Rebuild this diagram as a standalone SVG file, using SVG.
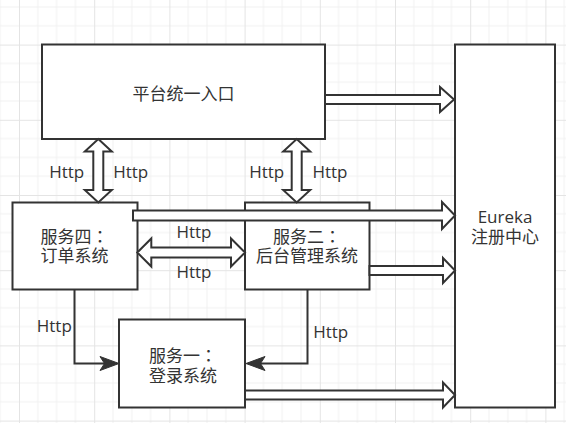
<svg xmlns="http://www.w3.org/2000/svg" width="566" height="423" viewBox="0 0 566 423">
<defs>
<pattern id="grid" patternUnits="userSpaceOnUse" x="19" y="44.6" width="75.2" height="75.2">
<path d="M18.8,0V75.2M37.6,0V75.2M56.4,0V75.2M0,18.8H75.2M0,37.6H75.2M0,56.4H75.2" stroke="#f1f1f1" stroke-width="1" fill="none"/>
<path d="M0.5,0V75.2M0,0.5H75.2" stroke="#e4e4e4" stroke-width="1" fill="none"/>
</pattern>
<style>
.box{fill:#fff;stroke:#333;stroke-width:2}
.blk{fill:#fff;stroke:#333;stroke-width:2;stroke-linejoin:miter}
.ln{fill:none;stroke:#333;stroke-width:2}
.hd{fill:#333;stroke:#333;stroke-width:1}
.t{font-family:"Open Sans","Noto Sans CJK SC",sans-serif;font-size:17px;fill:#333;text-anchor:middle}
.c{font-family:"Noto Sans CJK TC","Noto Sans CJK SC",sans-serif}
</style>
</defs>
<rect width="566" height="423" fill="#fff"/>
<rect width="566" height="423" fill="url(#grid)"/>

<g id="node-entry">
<rect class="box" x="42" y="44.5" width="283" height="94.5"/>
<text class="t" x="183.5" y="99.5">平台统一入口</text>
</g>
<g id="node-eureka">
<rect class="box" x="455" y="44.5" width="100" height="363"/>
<text class="t" x="505" y="222.7">Eureka</text>
<text class="t" x="505" y="242.7">注册中心</text>
</g>
<g id="node-service4">
<rect class="box" x="12.5" y="202.5" width="125" height="87"/>
<text class="t" x="74.5" y="242.7">服务四<tspan class="c">：</tspan></text>
<text class="t" x="74.5" y="262">订单系统</text>
</g>
<g id="node-service2">
<rect class="box" x="245" y="202.5" width="124.5" height="87"/>
<text class="t" x="307" y="243.3">服务二<tspan class="c">：</tspan></text>
<text class="t" x="307" y="262">后台管理系统</text>
</g>
<g id="node-service1">
<rect class="box" x="119" y="319.5" width="126" height="88"/>
<text class="t" x="183" y="362">服务一<tspan class="c">：</tspan></text>
<text class="t" x="183" y="382">登录系统</text>
</g>

<g id="connectors">
<path class="blk" d="M325,95H440V87L454,99.5L440,112V104H325Z"/>
<path class="blk" d="M98.3,139L111.8,151.5H103.3V190H111.8L98.3,202.5L84.8,190H93.3V151.5H84.8Z"/>
<path class="blk" d="M296.7,139L310.2,151.5H301.7V190H310.2L296.7,202.5L283.2,190H291.7V151.5H283.2Z"/>
<path class="blk" d="M137.3,252.5L151.3,238.5V247.5H231V238.5L245,252.5L231,266.5V257.5H151.3V266.5Z"/>
<path class="blk" d="M133,210.5H442V202L455,215.5L442,229V220.5H133Z"/>
<path class="blk" d="M369.5,266H443V258L455,270.5L443,283V275H369.5Z"/>
<path class="blk" d="M245,390.5H443V382.5L455,395L443,407.5V399.5H245Z"/>
<path class="ln" d="M74.5,289.5V363.5H105"/>
<path class="hd" d="M119,363.5L100,356.5L104.5,363.5L100,370.5Z"/>
<path class="ln" d="M307.5,289.5V363.5H260"/>
<path class="hd" d="M246,363.5L265,356.5L260.5,363.5L265,370.5Z"/>
<text class="t" x="66.7" y="177.7">Http</text>
<text class="t" x="130.7" y="177.7">Http</text>
<text class="t" x="266.7" y="177.7">Http</text>
<text class="t" x="330" y="177.7">Http</text>
<text class="t" x="194" y="237.7">Http</text>
<text class="t" x="194" y="277.7">Http</text>
<text class="t" x="54.3" y="331.7">Http</text>
<text class="t" x="330.7" y="338.3">Http</text>
</g>
</svg>
